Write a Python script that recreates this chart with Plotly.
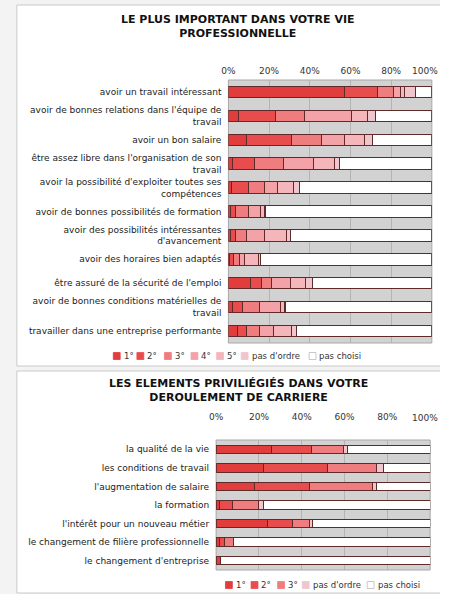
import plotly.graph_objects as go

# Page is laid out on a 440 px wide canvas; coordinates below are in pixels.
W, H = 440, 594

# ---- Panel 1: most important in professional life ----
cats1 = [
    "avoir un travail intéressant",
    "avoir de bonnes relations dans l'équipe de<br>travail",
    "avoir un bon salaire",
    "être assez libre dans l'organisation de son<br>travail",
    "avoir la possibilité d'exploiter toutes ses<br>compétences",
    "avoir de bonnes possibilités de formation",
    "avoir des possibilités intéressantes<br>d'avancement",
    "avoir des horaires bien adaptés",
    "être assuré de la sécurité de l'emploi",
    "avoir de bonnes conditions matérielles de<br>travail",
    "travailler dans une entreprise performante",
]
names1 = ["1°", "2°", "3°", "4°", "5°", "pas d'ordre", "pas choisi"]
r1_1 = [57, 5, 9, 2, 1.5, 1, 1, 0.5, 11, 2, 4.5]
r1_2 = [16.5, 18, 22, 11, 8.5, 2.5, 2.5, 2, 5.5, 5, 4.5]
r1_3 = [7.5, 14.5, 15, 14, 7.5, 6.5, 5.5, 3, 4.5, 8.5, 6.5]
r1_4 = [3.5, 23, 11, 15, 6.5, 6, 8.5, 2.5, 9.5, 10, 6.5]
r1_5 = [2, 8, 10, 10, 8, 1.5, 11, 7, 7.5, 2, 9]
r1_pdo = [5.5, 4, 4, 2.5, 3, 0.5, 2, 1, 3.5, 0.5, 2.5]
r1_none = [8, 27.5, 29, 45.5, 65, 82, 69.5, 84, 58.5, 72, 66.5]
series1 = [r1_1, r1_2, r1_3, r1_4, r1_5, r1_pdo, r1_none]

# ---- Panel 2: preferred career elements ----
cats2 = [
    "la qualité de la vie",
    "les conditions de travail",
    "l'augmentation de salaire",
    "la formation",
    "l'intérêt pour un nouveau métier",
    "le changement de filière professionnelle",
    "le changement d'entreprise",
]
names2 = ["1°", "2°", "3°", "pas d'ordre", "pas choisi"]
r2_1 = [26, 22, 18, 1.5, 24, 1.5, 2]
r2_2 = [18.5, 30, 25.5, 6, 11.5, 2.5, 0]
r2_3 = [15, 23, 29.5, 12.5, 8, 4, 0]
r2_pdo = [2, 3, 2, 2, 1.5, 0, 0]
r2_none = [38.5, 22, 25, 78, 55, 92, 98]
series2 = [r2_1, r2_2, r2_3, r2_pdo, r2_none]

ticks = [0, 20, 40, 60, 80, 100]
tick_text = [f"{t}%" for t in ticks]

col1 = ["#e23d3d", "#e94c4c", "#ef7c7e", "#f3a2a7", "#f5b6bb", "#f0c6ce", "#ffffff"]
col2 = ["#e23d3d", "#e94c4c", "#ef7c7e", "#f0c6ce", "#ffffff"]

FONT = "DejaVu Sans"
EDGE = "#5e2a2a"


def py(p):
    return 1 - p / H


def px(p):
    return p / W


fig = go.Figure()

for name, vals, c in zip(names1, series1, col1):
    fig.add_trace(go.Bar(
        x=vals, y=cats1, orientation="h", name=name,
        marker=dict(color=c, line=dict(color=EDGE, width=1)),
        width=0.48, xaxis="x", yaxis="y", showlegend=False,
    ))
for name, vals, c in zip(names2, series2, col2):
    fig.add_trace(go.Bar(
        x=vals, y=cats2, orientation="h", name=name,
        marker=dict(color=c, line=dict(color=EDGE, width=1)),
        width=0.46, xaxis="x2", yaxis="y2", showlegend=False,
    ))

# the last tick label sits at the canvas edge, so it is drawn as an annotation
xcommon = dict(range=[0, 100], tickvals=ticks[:-1], ticktext=tick_text[:-1],
               side="top", showgrid=True, gridcolor="#b4b4b4", gridwidth=1,
               zeroline=False, showline=False, ticks="",
               tickfont=dict(family=FONT, size=9, color="#333"))
ycommon = dict(autorange="reversed", ticks="", showline=False, showgrid=False,
               tickfont=dict(family=FONT, size=9, color="#222"))

fig.update_layout(
    width=W, height=H, margin=dict(l=0, r=0, t=0, b=0),
    paper_bgcolor="#f3f3f3", plot_bgcolor="rgba(0,0,0,0)",
    barmode="stack", bargap=0.5,
    xaxis=dict(domain=[px(225), px(431.7)], anchor="y", ticklabelstandoff=3, **xcommon),
    yaxis=dict(domain=[py(343), py(80)], anchor="x", ticklabelstandoff=6, **ycommon),
    xaxis2=dict(domain=[px(212.5), px(430)], anchor="y2", ticklabelstandoff=17, **xcommon),
    yaxis2=dict(domain=[py(570), py(440)], anchor="x2", ticklabelstandoff=6, **ycommon),
)

shapes = []
# white cards
for (x0, y0, x1, y1) in [(10, 5, 447, 366), (10, 371, 447, 593)]:
    shapes.append(dict(type="rect", xref="paper", yref="paper", layer="below",
                       x0=px(x0), x1=px(x1), y0=py(y1), y1=py(y0),
                       fillcolor="#ffffff", line=dict(color="#c9c9c9", width=1)))
# grey plotting areas
for ax in ["", "2"]:
    shapes.append(dict(type="rect", xref=f"x{ax} domain", yref=f"y{ax} domain", layer="below",
                       x0=0, x1=1, y0=0, y1=1, fillcolor="#d2d2d2",
                       line=dict(color="#a8a8a8", width=1)))

annotations = []
# titles
for txt, yc in [("LE PLUS IMPORTANT DANS VOTRE VIE<br>PROFESSIONNELLE", 27),
                ("LES ELEMENTS PRIVILIÉGIÉS DANS VOTRE<br>DEROULEMENT DE CARRIERE", 390)]:
    annotations.append(dict(text=f"<b>{txt}</b>", xref="paper", yref="paper",
                            x=px(235), y=py(yc), xanchor="center", yanchor="middle",
                            showarrow=False, font=dict(family=FONT, size=11, color="#111")))

# "100%" labels on both top axes
for xr, yc, shift in [("x", 70.5, 8), ("x2", 417.5, 9.5)]:
    annotations.append(dict(text=tick_text[-1], xref=xr, yref="paper", x=ticks[-1], y=py(yc),
                            xanchor="right", yanchor="middle", xshift=shift, showarrow=False,
                            font=dict(family=FONT, size=9, color="#333")))

# legends (square marker + label)
leg1_x = [108, 132, 160, 187, 213, 238, 307]
leg2_x = [222, 248, 275, 300, 366]
for names, cols, xs, yc in [(names1, col1, leg1_x, 356), (names2, col2, leg2_x, 585)]:
    for name, c, x in zip(names, cols, xs):
        shapes.append(dict(type="rect", xref="paper", yref="paper",
                           x0=px(x), x1=px(x + 7), y0=py(yc + 3.5), y1=py(yc - 3.5),
                           fillcolor=c, line=dict(color="#bbbbbb" if c == "#ffffff" else c, width=0.8)))
        annotations.append(dict(text=name, xref="paper", yref="paper",
                                x=px(x + 8.5), y=py(yc), xanchor="left", yanchor="middle",
                                showarrow=False, font=dict(family=FONT, size=8.5, color="#333")))

fig.update_layout(shapes=shapes, annotations=annotations)
fig.write_html("out.html")
